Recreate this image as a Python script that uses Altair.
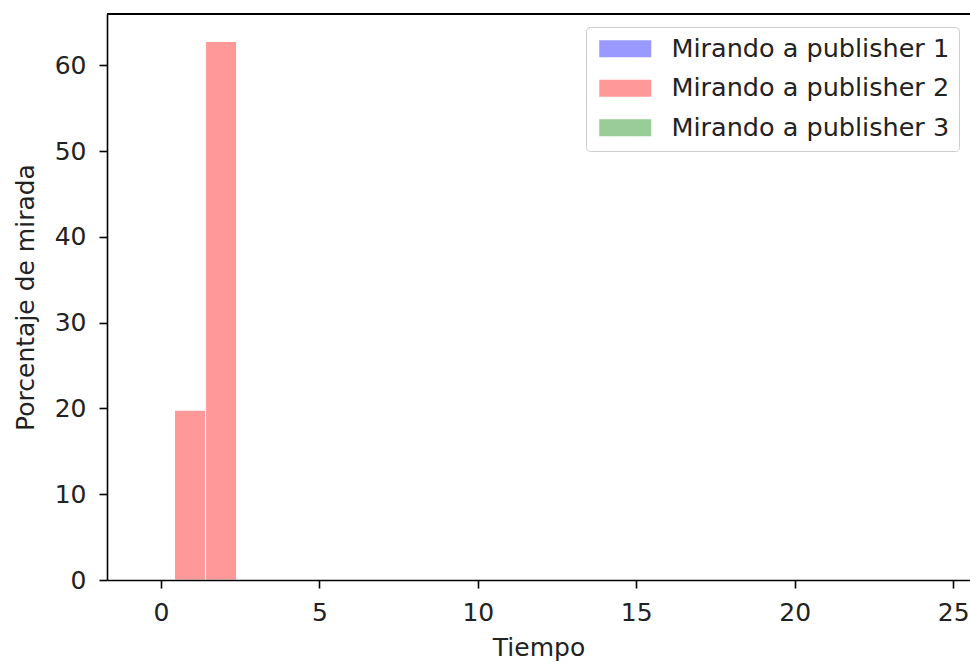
import altair as alt
import pandas as pd

# Data
publishers = ["Mirando a publisher 1", "Mirando a publisher 2", "Mirando a publisher 3"]
colors = ["blue", "red", "green"]
tiempo = [0.92, 1.90]
publisher_1 = [0.0, 0.0]
publisher_2 = [19.8, 62.8]
publisher_3 = [0.0, 0.0]
x_ticks = [0, 5, 10, 15, 20, 25]
y_ticks = [0, 10, 20, 30, 40, 50, 60]

rows = []
for name, vals in zip(publishers, [publisher_1, publisher_2, publisher_3]):
    for t, v in zip(tiempo, vals):
        rows.append({"tiempo": t, "valor": v, "publisher": name})
df = pd.DataFrame(rows)

FONT = "DejaVu Sans"
FS = 25
W, H = 863, 566

bars = (
    alt.Chart(df)
    .transform_filter("datum.valor > 0")
    .transform_calculate(x0="datum.tiempo - 0.49", x1="datum.tiempo + 0.49")
    .mark_bar(fillOpacity=0.4, stroke="white", strokeWidth=1)
    .encode(
        x=alt.X(
            "x0:Q",
            scale=alt.Scale(domain=[-1.7, 25.53], nice=False, zero=False),
            axis=alt.Axis(
                title="Tiempo",
                values=x_ticks,
                format="d",
                grid=False,
                labelPadding=12,
                titlePadding=10,
                zindex=1,
            ),
        ),
        x2="x1:Q",
        y=alt.Y(
            "valor:Q",
            stack=None,
            scale=alt.Scale(domain=[0, 66.0], nice=False),
            axis=alt.Axis(
                title="Porcentaje de mirada",
                values=y_ticks,
                format="d",
                grid=False,
                labelPadding=13,
                titlePadding=16,
                zindex=1,
            ),
        ),
        y2=alt.datum(0),
        color=alt.Color(
            "publisher:N",
            scale=alt.Scale(domain=publishers, range=colors),
            legend=alt.Legend(
                title=None,
                orient="none",
                legendX=479,
                legendY=13,
                padding=9,
                symbolType="M-1,-1L5.12,-1L5.12,1L-1,1Z",
                symbolSize=289,
                symbolOpacity=0.4,
                symbolStrokeWidth=0,
                labelOffset=51,
                labelLimit=500,
                rowPadding=12.5,
                labelFontSize=25.5,
                labelFont=FONT,
                labelColor="#222222",
                strokeColor="#cccccc",
                fillColor="white",
                cornerRadius=4,
            ),
        ),
    )
)

top_spine = alt.Chart(df).mark_rule(color="black", strokeWidth=1.6).encode(
    x=alt.value(0), x2=alt.value(W), y=alt.value(0)
)

chart = (
    alt.layer(bars, top_spine)
    .properties(
        width=W,
        height=H,
        autosize=alt.AutoSizeParams(type="none"),
        padding={"left": 107, "top": 14, "right": 0, "bottom": 82},
    )
    .configure_view(stroke=None)
    .configure_axis(
        labelFont=FONT,
        titleFont=FONT,
        labelFontSize=FS,
        titleFontSize=FS,
        titleFontWeight="normal",
        labelColor="#222222",
        titleColor="#222222",
        domainColor="black",
        domainWidth=1.6,
        tickColor="black",
        tickWidth=1.6,
        tickSize=8,
    )
    .configure_legend(labelFont=FONT)
)

chart.save("out.html", embed_options={"renderer": "svg", "actions": False})
